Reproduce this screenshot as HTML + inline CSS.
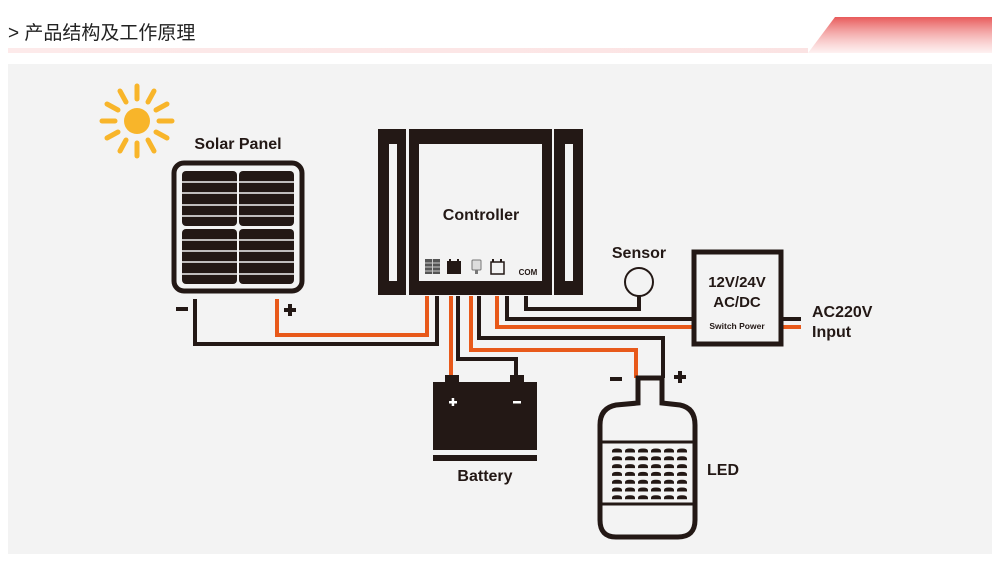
<!DOCTYPE html>
<html><head><meta charset="utf-8"><style>
html,body{margin:0;padding:0;background:#fff;}
svg{display:block;}
text{font-family:"Liberation Sans","Noto Sans CJK SC",sans-serif;}
</style></head><body>
<svg width="1000" height="563" viewBox="0 0 1000 563" xmlns="http://www.w3.org/2000/svg">
<defs>
<linearGradient id="rg" x1="0" y1="0" x2="0" y2="1"><stop offset="0" stop-color="#e85a5a"/><stop offset="1" stop-color="#fde8e8" stop-opacity="0.6"/></linearGradient>
<linearGradient id="lg" x1="0" y1="0" x2="1" y2="0"><stop offset="0" stop-color="#fdeaea"/><stop offset="1" stop-color="#fbe3e3"/></linearGradient>
</defs>
<rect width="1000" height="563" fill="#fff"/>
<text x="8" y="39" font-size="19" fill="#222">&gt; 产品结构及工作原理</text>
<rect x="8" y="48" width="800" height="5" fill="url(#lg)"/>
<polygon points="835,17 992,17 992,53 808,53" fill="url(#rg)"/>
<rect x="8" y="64" width="984" height="490" fill="#f3f3f3"/>

<g stroke="#f8b52a" stroke-width="5" stroke-linecap="round" fill="#f8b52a">
<circle cx="137" cy="121" r="13" stroke="none"/>
<line x1="137" y1="99" x2="137" y2="86"/>
<line x1="137" y1="143" x2="137" y2="156"/>
<line x1="115" y1="121" x2="102" y2="121"/>
<line x1="159" y1="121" x2="172" y2="121"/>
<line x1="126" y1="102" x2="120" y2="91"/>
<line x1="148" y1="102" x2="154" y2="91"/>
<line x1="126" y1="140" x2="120" y2="151"/>
<line x1="148" y1="140" x2="154" y2="151"/>
<line x1="118" y1="110" x2="107" y2="104"/>
<line x1="156" y1="110" x2="167" y2="104"/>
<line x1="118" y1="132" x2="107" y2="138"/>
<line x1="156" y1="132" x2="167" y2="138"/>
</g>

<text x="238" y="149" font-size="16" font-weight="bold" text-anchor="middle" fill="#231815">Solar Panel</text>
<rect x="174" y="163" width="128" height="128" rx="10" fill="none" stroke="#231815" stroke-width="5"/>
<g fill="#231815">
<rect x="182" y="171" width="55" height="55" rx="4"/><rect x="239" y="171" width="55" height="55" rx="4"/>
<rect x="182" y="229" width="55" height="55" rx="4"/><rect x="239" y="229" width="55" height="55" rx="4"/>
</g>
<g stroke="#f3f3f3" stroke-width="1.6">
<line x1="180" y1="182" x2="296" y2="182"/><line x1="180" y1="193" x2="296" y2="193"/><line x1="180" y1="205" x2="296" y2="205"/><line x1="180" y1="216" x2="296" y2="216"/>
<line x1="180" y1="240" x2="296" y2="240"/><line x1="180" y1="251" x2="296" y2="251"/><line x1="180" y1="262" x2="296" y2="262"/><line x1="180" y1="274" x2="296" y2="274"/>
</g>
<rect x="176" y="307" width="12" height="4" fill="#231815"/>
<rect x="284" y="308" width="12" height="4" fill="#231815"/><rect x="288" y="304" width="4" height="12" fill="#231815"/>

<g fill="none" stroke-width="4" stroke-linejoin="miter">
<polyline points="195,299 195,344 437,344 437,296" stroke="#231815"/>
<polyline points="277,299 277,335 427,335 427,296" stroke="#e8591a"/>
<polyline points="451,296 451,376" stroke="#e8591a"/>
<polyline points="458,296 458,359 516,359 516,376" stroke="#231815"/>
<polyline points="471,296 471,350 636,350 636,378" stroke="#e8591a"/>
<polyline points="479,296 479,338 663,338 663,378" stroke="#231815"/>
<polyline points="497,296 497,327 692,327" stroke="#e8591a"/>
<polyline points="507,296 507,319 692,319" stroke="#231815"/>
<polyline points="526,296 526,309 639,309 639,296" stroke="#231815"/>
<line x1="782" y1="319" x2="801" y2="319" stroke="#231815"/>
<line x1="782" y1="327" x2="801" y2="327" stroke="#e8591a"/>
</g>

<g fill="#231815">
<rect x="378" y="129" width="28" height="166"/>
<rect x="409" y="129" width="143" height="166"/>
<rect x="554" y="129" width="29" height="166"/>
</g>
<rect x="389" y="144" width="8" height="137" fill="#f3f3f3"/>
<rect x="565" y="144" width="8" height="137" fill="#f3f3f3"/>
<rect x="419" y="144" width="123" height="137" fill="#f3f3f3"/>
<text x="481" y="220" font-size="16" font-weight="bold" text-anchor="middle" fill="#231815">Controller</text>
<rect x="425" y="259" width="15" height="15" fill="#555"/>
<g stroke="#ccc" stroke-width="1"><line x1="432.5" y1="259" x2="432.5" y2="274"/><line x1="425" y1="263" x2="440" y2="263"/><line x1="425" y1="267" x2="440" y2="267"/><line x1="425" y1="271" x2="440" y2="271"/></g>
<rect x="447" y="261" width="14" height="13" fill="#231815"/><rect x="449" y="259" width="2" height="3" fill="#231815"/><rect x="457" y="259" width="2" height="3" fill="#231815"/>
<rect x="472" y="260" width="9" height="10" rx="1" fill="#ddd" stroke="#777" stroke-width="1"/><rect x="475" y="270" width="3" height="4" fill="#777"/>
<rect x="491" y="262" width="13" height="12" fill="#f3f3f3" stroke="#231815" stroke-width="1.5"/><rect x="492" y="259" width="2" height="3" fill="#231815"/><rect x="500" y="259" width="2" height="3" fill="#231815"/>
<text x="528" y="275" font-size="8" font-weight="bold" text-anchor="middle" fill="#231815">COM</text>

<text x="639" y="258" font-size="16" font-weight="bold" text-anchor="middle" fill="#231815">Sensor</text>
<circle cx="639" cy="282" r="14" fill="none" stroke="#231815" stroke-width="2"/>

<rect x="694" y="252" width="87" height="92" fill="#f3f3f3" stroke="#231815" stroke-width="5"/>
<text x="737" y="287" font-size="15" font-weight="bold" text-anchor="middle" fill="#231815">12V/24V</text>
<text x="737" y="307" font-size="15" font-weight="bold" text-anchor="middle" fill="#231815">AC/DC</text>
<text x="737" y="329" font-size="8.5" font-weight="bold" text-anchor="middle" fill="#231815">Switch Power</text>
<text x="812" y="317" font-size="16" font-weight="bold" fill="#231815">AC220V</text>
<text x="812" y="337" font-size="16" font-weight="bold" fill="#231815">Input</text>

<rect x="445" y="375" width="14" height="8" fill="#231815"/>
<rect x="510" y="375" width="14" height="8" fill="#231815"/>
<rect x="433" y="382" width="104" height="68" fill="#231815"/>
<rect x="433" y="455" width="104" height="6" fill="#231815"/>
<rect x="449" y="401" width="8" height="2.5" fill="#fff"/><rect x="451.7" y="398" width="2.5" height="8" fill="#fff"/>
<rect x="513" y="401" width="8" height="2.5" fill="#fff"/>
<text x="485" y="481" font-size="16" font-weight="bold" text-anchor="middle" fill="#231815">Battery</text>

<rect x="610" y="377" width="12" height="4" fill="#231815"/>
<rect x="674" y="375" width="12" height="4" fill="#231815"/><rect x="678" y="371" width="4" height="12" fill="#231815"/>
<path d="M638,378 L662,378 L662,403 L680,405 Q695,408 695,425 L695,520 Q695,537 678,537 L616,537 Q600,537 600,520 L600,425 Q600,408 616,405 L638,403 Z" fill="#f3f3f3" stroke="#231815" stroke-width="5"/>
<line x1="600" y1="442" x2="695" y2="442" stroke="#231815" stroke-width="3"/>
<line x1="600" y1="504" x2="695" y2="504" stroke="#231815" stroke-width="3"/>
<g fill="#231815">
<g id="row">
<path d="M612,452.5 v-1.5 q0,-2.5 5,-2.5 q5,0 5,2.5 v1.5 z"/><path d="M625,452.5 v-1.5 q0,-2.5 5,-2.5 q5,0 5,2.5 v1.5 z"/><path d="M638,452.5 v-1.5 q0,-2.5 5,-2.5 q5,0 5,2.5 v1.5 z"/><path d="M651,452.5 v-1.5 q0,-2.5 5,-2.5 q5,0 5,2.5 v1.5 z"/><path d="M664,452.5 v-1.5 q0,-2.5 5,-2.5 q5,0 5,2.5 v1.5 z"/><path d="M677,452.5 v-1.5 q0,-2.5 5,-2.5 q5,0 5,2.5 v1.5 z"/>
</g>
<use href="#row" y="7.8"/><use href="#row" y="15.6"/><use href="#row" y="23.4"/><use href="#row" y="31.2"/><use href="#row" y="39"/><use href="#row" y="46.8"/>
</g>
<text x="707" y="475" font-size="16" font-weight="bold" fill="#231815">LED</text>
</svg>
</body></html>
